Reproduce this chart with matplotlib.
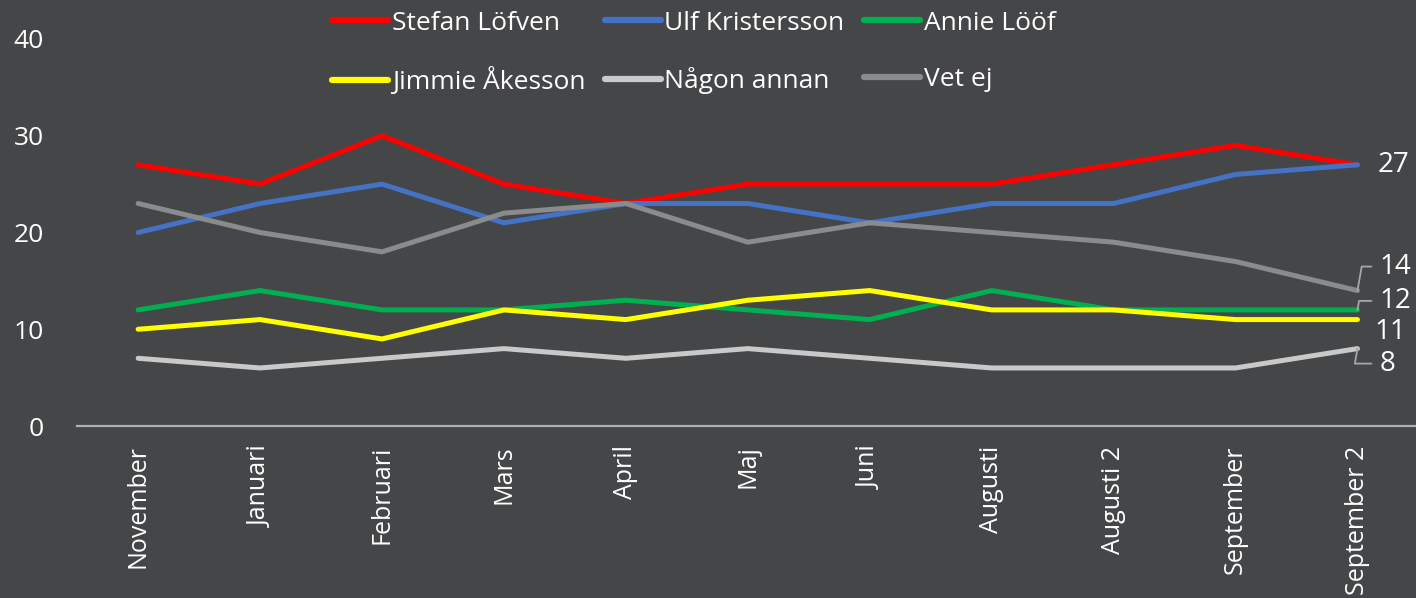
import matplotlib
matplotlib.use("Agg")
import matplotlib.pyplot as plt

months = ["November", "Januari", "Februari", "Mars", "April", "Maj", "Juni",
          "Augusti", "Augusti 2", "September", "September 2"]

lofven = [27, 25, 30, 25, 23, 25, 25, 25, 27, 29, 27]
kristersson = [20, 23, 25, 21, 23, 23, 21, 23, 23, 26, 27]
loof = [12, 14, 12, 12, 13, 12, 11, 14, 12, 12, 12]
akesson = [10, 11, 9, 12, 11, 13, 14, 12, 12, 11, 11]
nagon_annan = [7, 6, 7, 8, 7, 8, 7, 6, 6, 6, 8]
vet_ej = [23, 20, 18, 22, 23, 19, 21, 20, 19, 17, 14]

series = [
    ("Stefan Löfven", lofven, "#ff0000"),
    ("Ulf Kristersson", kristersson, "#4472c4"),
    ("Annie Lööf", loof, "#00b050"),
    ("Jimmie Åkesson", akesson, "#ffff00"),
    ("Någon annan", nagon_annan, "#c9c9c9"),
    ("Vet ej", vet_ej, "#8a8b8d"),
]

bg = "#454648"
tick_font = ["Open Sans", "DejaVu Sans"]

fig = plt.figure(figsize=(14.16, 5.98), dpi=100, facecolor=bg)
ax = fig.add_axes([0.0545, 0.2876, 0.9455, 0.6472], facecolor=bg)

x = list(range(len(months)))
lines = []
for name, vals, col in series:
    ln, = ax.plot(x, vals, color=col, lw=3.6, label=name, solid_capstyle="round",
                  solid_joinstyle="round")
    lines.append(ln)

ax.set_ylim(0, 40)
ax.set_xlim(-0.5, 10.48)
ax.set_yticks([0, 10, 20, 30, 40])
ax.set_xticks(x)
ax.set_xticklabels(months, rotation=90, fontsize=18, color="white",
                   family=tick_font, va="top", ha="center")
for lab in ax.get_yticklabels():
    lab.set_fontsize(19)
    lab.set_color("white")
    lab.set_family(tick_font)
ax.tick_params(axis="both", length=0)
ax.tick_params(axis="y", pad=24)
ax.tick_params(axis="x", pad=14)
for s in ["left", "right", "top"]:
    ax.spines[s].set_visible(False)
ax.spines["bottom"].set_color("#b0b0b0")
ax.spines["bottom"].set_linewidth(1.6)

# end labels
last = len(months) - 1
lead = "#a6a6a6"
lbl_kw = dict(color="white", fontsize=20, family=tick_font, va="center",
              ha="left", annotation_clip=False)
ax.annotate(str(lofven[-1]), xy=(last, kristersson[-1]), xytext=(20, 0),
            textcoords="offset pixels", **lbl_kw)
ax.annotate(str(vet_ej[-1]), xy=(last, vet_ej[-1]), xytext=(22, 24),
            textcoords="offset pixels", **lbl_kw)
ax.annotate(str(loof[-1]), xy=(last, loof[-1]), xytext=(22, 9),
            textcoords="offset pixels", **lbl_kw)
ax.annotate(str(akesson[-1]), xy=(last, akesson[-1]), xytext=(17, -12),
            textcoords="offset pixels", **lbl_kw)
ax.annotate(str(nagon_annan[-1]), xy=(last, nagon_annan[-1]), xytext=(22, -15),
            textcoords="offset pixels", **lbl_kw)

# leader lines
for yv, dy in [(vet_ej[-1], 24), (loof[-1], 9), (nagon_annan[-1], -15)]:
    ax.annotate("", xy=(last, yv), xytext=(14, dy), textcoords="offset pixels",
                annotation_clip=False,
                arrowprops=dict(arrowstyle="-", color=lead, lw=1.3,
                                shrinkA=0, shrinkB=0,
                                connectionstyle="angle,angleA=0,angleB=80,rad=0"))

# legend filled row by row
order = [0, 3, 1, 4, 2, 5]
leg = fig.legend([lines[i] for i in order], [series[i][0] for i in order],
                 loc="upper left", bbox_to_anchor=(0.218, 1.022), ncol=3,
                 frameon=False, handlelength=2.1, handletextpad=0.15,
                 columnspacing=0.75, labelspacing=1.2,
                 prop={"family": tick_font, "size": 19})
for t in leg.get_texts():
    t.set_color("white")
for h in leg.get_lines():
    h.set_linewidth(4.5)

fig.savefig("out.png", dpi=100, facecolor=bg)
